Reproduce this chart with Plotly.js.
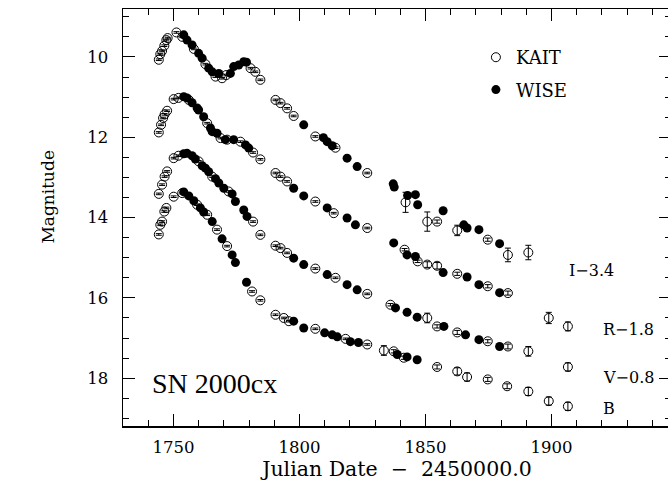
<!DOCTYPE html>
<html>
<head>
<meta charset="utf-8">
<script src="https://cdn.plot.ly/plotly-3.0.1.min.js"></script>
<style>html,body{margin:0;padding:0;overflow:hidden;background:#fff;}</style>
</head>
<body>
<div id="chart" style="width:671px;height:487px;"></div>
<script>
// ---- Data (Julian Date - 2450000.0, plotted magnitude incl. offset) ----
// I - 3.4
const I_KAIT_day = [1744.2,1744.8,1745.5,1746.4,1747.2,1747.7,1751.2,1753.5,1758.1,1762.7,1766.7,1769.3,1771.0,1780.6,1782.5,1784.5,1790.5,1792.5,1795.1,1797.7,1806.3,1814.3,1826.9,1842.1,1850.7,1854.6,1862.6,1874.7,1882.7,1890.8];
const I_KAIT_mag = [10.07,9.93,9.85,9.72,9.58,9.53,9.39,9.50,9.80,10.18,10.49,10.53,10.45,10.28,10.37,10.57,11.07,11.15,11.28,11.47,11.98,12.26,12.89,13.62,14.10,14.10,14.32,14.55,14.93,14.87];
const I_KAIT_err = [0.02,0.02,0.02,0.02,0.02,0.02,0.02,0.02,0.02,0.02,0.02,0.02,0.02,0.02,0.02,0.02,0.02,0.02,0.02,0.02,0.02,0.02,0.02,0.25,0.24,0.04,0.13,0.04,0.17,0.18];
const I_WISE_day = [1754.1,1755.4,1757.4,1760.0,1761.4,1764.0,1765.4,1768.0,1772.6,1773.9,1775.9,1777.9,1779.0,1801.7,1809.5,1811.0,1813.0,1818.9,1822.9,1837.2,1837.6,1842.9,1846.0,1846.9,1857.0,1865.2,1866.5,1871.2,1879.4];
const I_WISE_mag = [9.45,9.58,9.70,9.91,10.03,10.28,10.37,10.41,10.41,10.24,10.20,10.12,10.13,11.69,12.01,12.11,12.21,12.52,12.73,13.16,13.24,13.45,13.43,13.68,13.83,14.18,14.26,14.30,14.65];
// R - 1.8
const R_KAIT_day = [1744.2,1745.1,1745.9,1746.5,1747.5,1750.1,1752.0,1756.1,1763.4,1768.7,1771.3,1776.6,1781.6,1784.5,1790.5,1792.5,1795.1,1806.3,1813.6,1826.9,1841.7,1846.9,1850.7,1854.6,1862.6,1874.7,1882.7,1898.9,1906.5];
const R_KAIT_mag = [11.88,11.69,11.52,11.43,11.34,11.05,11.02,11.07,11.65,12.02,12.06,12.11,12.38,12.55,12.89,12.98,13.10,13.60,13.89,14.26,14.80,15.09,15.17,15.20,15.40,15.71,15.88,16.50,16.71];
const R_KAIT_err = [0.02,0.02,0.02,0.02,0.02,0.02,0.02,0.02,0.02,0.02,0.02,0.02,0.02,0.02,0.02,0.02,0.02,0.02,0.02,0.02,0.03,0.03,0.07,0.08,0.04,0.04,0.05,0.14,0.11];
const R_WISE_day = [1754.1,1755.4,1757.4,1759.4,1760.0,1762.0,1764.7,1765.4,1767.3,1770.6,1773.9,1778.6,1779.9,1797.7,1801.7,1811.0,1818.9,1822.2,1837.4,1842.7,1846.0,1857.0,1866.5,1871.2,1879.4];
const R_WISE_mag = [10.99,11.02,11.14,11.27,11.32,11.49,11.77,11.86,11.90,12.06,12.06,12.19,12.27,13.27,13.46,13.76,14.01,14.18,14.63,14.93,14.97,15.37,15.48,15.67,15.87];
// V - 0.8
const V_KAIT_day = [1744.2,1745.5,1746.5,1747.5,1750.1,1752.0,1760.0,1765.4,1771.9,1781.6,1784.5,1790.5,1792.5,1795.1,1806.3,1814.3,1826.9,1836.1,1850.7,1854.6,1862.6,1874.7,1882.7,1890.8,1906.5];
const V_KAIT_mag = [13.41,13.18,12.98,12.85,12.52,12.46,12.60,12.98,13.35,14.10,14.43,14.70,14.76,14.88,15.27,15.50,15.90,16.17,16.50,16.71,16.86,17.08,17.21,17.33,17.72];
const V_KAIT_err = [0.02,0.02,0.02,0.02,0.02,0.02,0.02,0.02,0.02,0.02,0.02,0.02,0.02,0.02,0.02,0.02,0.02,0.03,0.12,0.04,0.05,0.04,0.06,0.12,0.10];
const V_WISE_day = [1754.1,1755.4,1757.4,1758.7,1761.4,1762.7,1764.0,1766.7,1768.0,1770.0,1773.3,1774.6,1777.9,1779.2,1797.7,1801.7,1811.0,1818.9,1822.9,1838.1,1842.7,1846.7,1857.3,1865.9,1871.2,1879.4];
const V_WISE_mag = [12.41,12.40,12.46,12.54,12.71,12.77,12.86,13.03,13.14,13.27,13.41,13.60,13.81,13.97,15.01,15.17,15.42,15.67,15.80,16.25,16.36,16.48,16.71,16.92,17.04,17.21];
// B
const B_KAIT_day = [1744.2,1744.8,1745.5,1746.4,1747.2,1750.1,1753.5,1759.4,1763.4,1767.3,1771.3,1781.2,1784.5,1790.5,1793.8,1795.8,1806.3,1818.3,1826.9,1833.5,1837.4,1841.4,1854.6,1862.6,1866.5,1874.7,1882.4,1890.8,1898.9,1906.5];
const B_KAIT_mag = [14.42,14.18,14.10,13.85,13.76,13.48,13.39,13.68,13.93,14.30,14.71,15.84,16.06,16.42,16.50,16.58,16.77,17.02,17.16,17.31,17.33,17.49,17.72,17.83,17.97,18.03,18.20,18.33,18.57,18.70];
const B_KAIT_err = [0.02,0.02,0.02,0.02,0.02,0.02,0.02,0.02,0.02,0.02,0.02,0.02,0.02,0.02,0.02,0.02,0.02,0.02,0.02,0.12,0.04,0.04,0.05,0.09,0.10,0.05,0.06,0.10,0.10,0.10];
const B_WISE_day = [1754.1,1756.1,1758.1,1760.7,1762.0,1765.4,1769.3,1773.3,1774.6,1779.0,1797.7,1801.7,1810.0,1813.0,1815.0,1820.2,1823.4,1838.8,1842.7,1846.7];
const B_WISE_mag = [13.36,13.46,13.58,13.76,13.86,14.10,14.53,14.93,15.12,15.61,16.58,16.75,16.87,16.92,16.97,17.09,17.11,17.41,17.47,17.54];

const bandLabels = ['I\u22123.4','R\u22121.8','V\u22120.8','B'];
const bandLabelPos = [[1906.0,15.33],[1919.5,16.79],[1919.5,17.98],[1919.5,18.76]];
const xTitle = 'Julian Date \u00a0\u2212\u00a0 2450000.0';
const yTitle = 'Magnitude';
const objectName = 'SN 2000cx';

const FONT = '"DejaVu Serif", serif';
const FONT_SN = '"Liberation Serif", serif';

const bands = [
  {kd:I_KAIT_day, km:I_KAIT_mag, ke:I_KAIT_err, wd:I_WISE_day, wm:I_WISE_mag},
  {kd:R_KAIT_day, km:R_KAIT_mag, ke:R_KAIT_err, wd:R_WISE_day, wm:R_WISE_mag},
  {kd:V_KAIT_day, km:V_KAIT_mag, ke:V_KAIT_err, wd:V_WISE_day, wm:V_WISE_mag},
  {kd:B_KAIT_day, km:B_KAIT_mag, ke:B_KAIT_err, wd:B_WISE_day, wm:B_WISE_mag}
];

const traces = [];
bands.forEach((b, i) => {
  traces.push({
    type:'scatter', mode:'markers', x:b.wd, y:b.wm, name:'WISE',
    legendgroup:'WISE', showlegend: i===0, legendrank: 2,
    marker:{symbol:'circle', size:9, color:'black', line:{width:0}},
    hoverinfo:'x+y'
  });
  traces.push({
    type:'scatter', mode:'markers', x:b.kd, y:b.km, name:'KAIT',
    legendgroup:'KAIT', showlegend: i===0, legendrank: 1,
    marker:{symbol:'circle-open', size:9, color:'black', line:{width:1, color:'black'}},
    error_y:{type:'data', array:b.ke, visible:true, color:'black', thickness:1, width:3},
    hoverinfo:'x+y'
  });
});

const annotations = bandLabels.map((t, i) => ({
  x: bandLabelPos[i][0], y: bandLabelPos[i][1], xref:'x', yref:'y',
  text: t, showarrow:false, xanchor:'left', yanchor:'middle',
  font:{family:FONT, size:16, color:'black'}
}));
annotations.push({
  x:1740.8, y:18.12, xref:'x', yref:'y', text:objectName, showarrow:false,
  xanchor:'left', yanchor:'middle', font:{family:FONT_SN, size:28, color:'black'}
});
// y-axis title, placed like the reference (above the axis midpoint)
annotations.push({
  x:-0.137, y:0.55, xref:'paper', yref:'paper', text:yTitle, showarrow:false,
  textangle:-90, xanchor:'center', yanchor:'middle',
  font:{family:FONT, size:17, color:'black'}
});

const axisCommon = {
  showline:true, linecolor:'black', linewidth:1.5, mirror:'allticks',
  ticks:'inside', tickcolor:'black', tickwidth:1, ticklen:12,
  showgrid:false, zeroline:false,
  tickfont:{family:FONT, size:16.5, color:'black'}
};

const layout = {
  width:671, height:487,
  font:{family:FONT, color:'black'},
  margin:{l:123, r:0, t:9, b:61},
  paper_bgcolor:'white', plot_bgcolor:'white',
  showlegend:true,
  legend:{x:0.644, y:0.928, xanchor:'left', yanchor:'top', bgcolor:'rgba(0,0,0,0)',
          font:{family:FONT, size:18, color:'black'}, itemsizing:'trace', tracegroupgap:6},
  xaxis: Object.assign({}, axisCommon, {
    range:[1730, 1947.4], tickmode:'linear', tick0:1750, dtick:50,
    ticklabelstandoff:6,
    minor:{dtick:10, ticklen:6, ticks:'inside', tickcolor:'black', tickwidth:1},
    title:{text:xTitle, font:{family:FONT, size:20.5, color:'black'}, standoff:5}
  }),
  yaxis: Object.assign({}, axisCommon, {
    range:[19.19, 8.806], tickmode:'linear', tick0:10, dtick:2,
    ticklabelstandoff:10,
    minor:{dtick:0.5, ticklen:6, ticks:'inside', tickcolor:'black', tickwidth:1}
  }),
  annotations: annotations
};

Plotly.newPlot('chart', traces, layout, {displayModeBar:false, staticPlot:true});
</script>
</body>
</html>
